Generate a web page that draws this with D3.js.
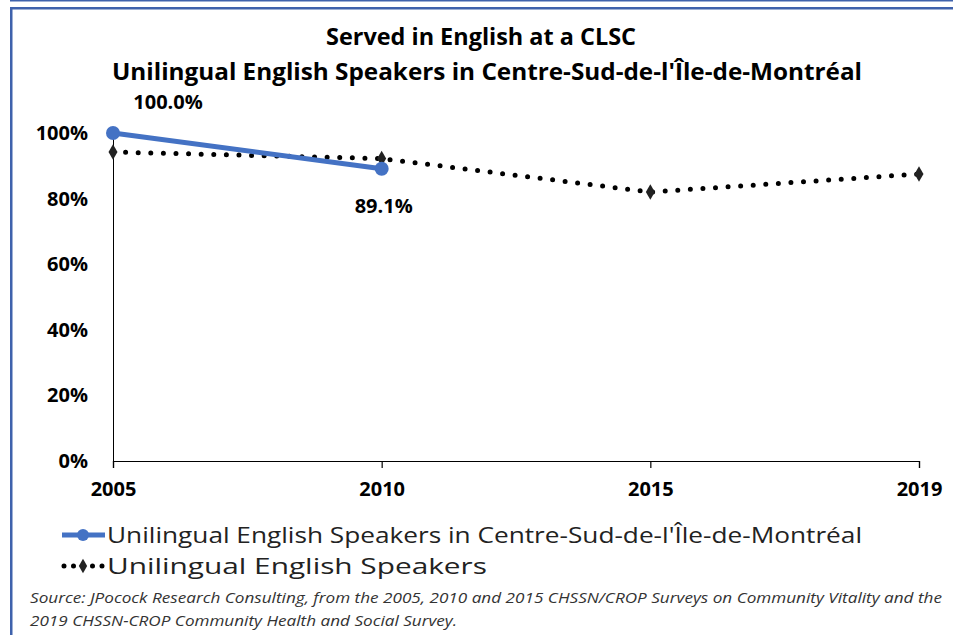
<!DOCTYPE html>
<html>
<head>
<meta charset="utf-8">
<script src="https://cdn.jsdelivr.net/npm/d3@7"></script>
<style>
  body { margin: 0; background: #fff; }
  svg { display: block; }
</style>
</head>
<body>
<div id="container"></div>
<script>
// Chart data
var years = ['2005', '2010', '2015', '2019'];
var centreSud = [1.0, 0.891, null, null];
var allSpeakers = [0.942, 0.922, 0.82, 0.875];
var yTicks = [0, 0.2, 0.4, 0.6, 0.8, 1.0];
var titleLines = ['Served in English at a CLSC', "Unilingual English Speakers in Centre-Sud-de-l'Île-de-Montréal"];
var seriesNames = ["Unilingual English Speakers in Centre-Sud-de-l'Île-de-Montréal", 'Unilingual English Speakers'];
var sourceLines = [
  'Source: JPocock Research Consulting, from the 2005, 2010  and 2015  CHSSN/CROP Surveys on Community Vitality and the',
  '2019  CHSSN-CROP Community Health and Social Survey.'
];

var width = 953, height = 635;
var blue = '#4472C4', frame = '#3F62AC';
var font = '"Open Sans", "Liberation Sans", sans-serif';

var svg = d3.select('#container').append('svg').attr('width', width).attr('height', height);

// frame lines (screenshot border)
svg.append('rect').attr('x', 10).attr('y', 0).attr('width', width - 10).attr('height', 1.5).attr('fill', frame);
svg.append('rect').attr('x', 10).attr('y', 7).attr('width', width - 10).attr('height', 2.5).attr('fill', frame);
svg.append('rect').attr('x', 10).attr('y', 7).attr('width', 2.5).attr('height', height - 7).attr('fill', frame);

var x = d3.scalePoint().domain(years).range([113, 919]);
var y = d3.scaleLinear().domain([0, 1]).range([461, 133]);

// title
svg.selectAll('text.title').data(titleLines).enter().append('text')
  .attr('class', 'title')
  .attr('x', (d, i) => i === 0 ? 481 : 487)
  .attr('y', (d, i) => 45 + i * 35)
  .attr('text-anchor', 'middle')
  .attr('textLength', (d, i) => i === 0 ? 310 : 750)
  .attr('lengthAdjust', 'spacingAndGlyphs')
  .style('font-family', font).style('font-weight', 'bold').style('font-size', '23px')
  .text(d => d);

// y axis
var yAxis = d3.axisLeft(y).tickValues(yTicks).tickSize(0).tickPadding(25).tickFormat(d3.format('.0%'));
svg.append('g').attr('transform', 'translate(113,0)').call(yAxis)
  .call(g => g.select('.domain').attr('stroke', '#000').attr('stroke-width', 1))
  .call(g => g.selectAll('text').style('font-family', font).style('font-weight', 'bold')
    .style('font-size', '20px').attr('fill', '#000'));

// x axis
var xAxis = d3.axisBottom(x).tickSize(7).tickPadding(14);
svg.append('g').attr('transform', 'translate(0,461)').call(xAxis)
  .call(g => g.select('.domain').attr('stroke', '#000').attr('stroke-width', 1.2))
  .call(g => g.selectAll('line').attr('stroke', '#000').attr('stroke-width', 1.2))
  .call(g => g.selectAll('text').style('font-family', font).style('font-weight', 'bold')
    .style('font-size', '20px').attr('fill', '#000'));

// dotted series
var dotted = years.map((d, i) => ({ year: d, v: allSpeakers[i] }));
var line = d3.line().x(d => x(d.year)).y(d => y(d.v)).defined(d => d.v != null);
svg.append('path').datum(dotted)
  .attr('d', line).attr('fill', 'none').attr('stroke', '#000')
  .attr('stroke-width', 5).attr('stroke-linecap', 'round').attr('stroke-dasharray', '0 12.6');
svg.selectAll('path.diamond').data(dotted).enter().append('path')
  .attr('class', 'diamond')
  .attr('d', d3.symbol(d3.symbolDiamond, 70))
  .attr('transform', d => 'translate(' + x(d.year) + ',' + y(d.v) + ')')
  .attr('fill', '#222');

// blue series
var solid = years.map((d, i) => ({ year: d, v: centreSud[i] })).filter(d => d.v != null);
svg.append('path').datum(solid)
  .attr('d', line).attr('fill', 'none').attr('stroke', blue).attr('stroke-width', 5);
svg.selectAll('circle.pt').data(solid).enter().append('circle')
  .attr('class', 'pt')
  .attr('cx', d => x(d.year)).attr('cy', d => y(d.v)).attr('r', 7).attr('fill', blue);

// data labels
svg.selectAll('text.lbl').data(solid).enter().append('text')
  .attr('class', 'lbl')
  .attr('x', (d, i) => x(d.year) + (i === 0 ? 55 : 2))
  .attr('y', (d, i) => y(d.v) + (i === 0 ? -24 : 44))
  .attr('text-anchor', 'middle')
  .style('font-family', font).style('font-weight', 'bold').style('font-size', '20px')
  .text(d => d3.format('.1%')(d.v));

// legend
var legend = svg.append('g');
legend.append('line').attr('x1', 62).attr('x2', 105).attr('y1', 535).attr('y2', 535)
  .attr('stroke', blue).attr('stroke-width', 5);
legend.append('circle').attr('cx', 83).attr('cy', 535).attr('r', 6).attr('fill', blue);
legend.append('line').attr('x1', 64).attr('x2', 104).attr('y1', 566).attr('y2', 566)
  .attr('stroke', '#000').attr('stroke-width', 5).attr('stroke-linecap', 'round').attr('stroke-dasharray', '0 9.5');
legend.append('path').attr('d', d3.symbol(d3.symbolDiamond, 60)).attr('transform', 'translate(83,566)').attr('fill', '#222');
legend.selectAll('text').data(seriesNames).enter().append('text')
  .attr('x', 107).attr('y', (d, i) => 543 + i * 31)
  .attr('textLength', (d, i) => i === 0 ? 755 : 380)
  .attr('lengthAdjust', 'spacingAndGlyphs')
  .style('font-family', font).style('font-size', '22px').attr('fill', '#222')
  .text(d => d);

// source
svg.selectAll('text.src').data(sourceLines).enter().append('text')
  .attr('class', 'src')
  .attr('x', 30).attr('y', (d, i) => 603 + i * 23)
  .attr('textLength', (d, i) => i === 0 ? 912 : 427)
  .attr('lengthAdjust', 'spacingAndGlyphs')
  .style('font-family', font).style('font-style', 'italic').style('font-size', '15px').attr('fill', '#333')
  .text(d => d);
</script>
</body>
</html>
